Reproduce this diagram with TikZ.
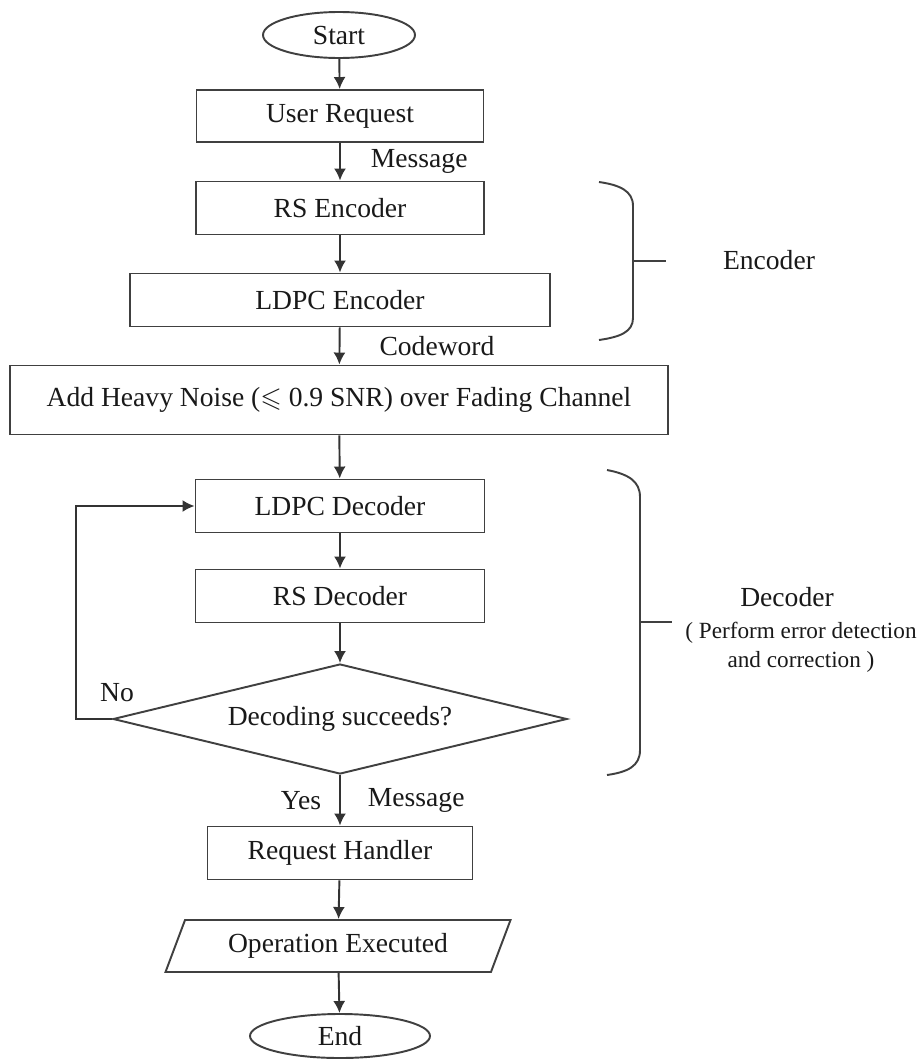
\documentclass[tikz,border=0pt]{standalone}
\usepackage{amssymb}
\usepackage{fontspec}
\setmainfont{Liberation Serif}
\usetikzlibrary{shapes.geometric,arrows.meta}

\begin{document}
\begin{tikzpicture}[x=0.2mm, y=-0.2mm, >={Latex[length=2.4mm,width=2.4mm]},
    every node/.style={font=\fontsize{15.7}{18}\selectfont, text=black!90},
    box/.style={rectangle, draw=black!75, line width=1.1pt, minimum height=10.6mm},
    term/.style={ellipse, draw=black!75, line width=1.1pt},
    decision/.style={diamond, draw=black!75, line width=1.1pt, aspect=4.13, inner sep=0pt, minimum width=90.8mm, minimum height=22mm},
    io/.style={trapezium, trapezium left angle=62, trapezium right angle=118, trapezium stretches body, draw=black!75, line width=1.1pt, minimum width=69mm, minimum height=10.4mm},
    lbl/.style={inner sep=0pt},
    note/.style={inner sep=0pt, align=center, font=\fontsize{13.2}{16.5}\selectfont},
    arr/.style={->, draw=black!80, line width=1.1pt},
    brace/.style={draw=black!75, line width=1.1pt}]
    \useasboundingbox (0,0) rectangle (921,1059);
    \node[term, minimum width=30.4mm, minimum height=9.2mm] (start) at (339,35) {Start};
    \node[box, minimum width=57.4mm, minimum height=10.4mm] (userreq) at (340,116) {User Request};
    \node[box, minimum width=57.6mm] (rsenc) at (340,208) {RS Encoder};
    \node[box, minimum width=84mm] (ldpcenc) at (340,300) {LDPC Encoder};
    \node[box, minimum width=131.6mm, minimum height=13.8mm] (noise) at (339,400) {Add Heavy Noise ($\leqslant$ 0.9 SNR) over Fading Channel};
    \node[box, minimum width=57.8mm] (ldpcdec) at (340,506) {LDPC Decoder};
    \node[box, minimum width=57.8mm] (rsdec) at (340,596) {RS Decoder};
    \node[decision] (decide) at (340,719) {Decoding succeeds?};
    \node[box, minimum width=53mm] (handler) at (340,853) {Request Handler};
    \node[io] (opexec) at (338,946) {Operation Executed};
    \node[term, minimum width=36mm, minimum height=8.4mm] (finish) at (340,1036) {End};
    \coordinate (loopturn) at (76,719);

    \draw[arr] (start) -- (userreq);
    \draw[arr] (userreq) -- node[lbl, right=6mm] (msgin) {Message} (rsenc);
    \draw[arr] (rsenc) -- (ldpcenc);
    \draw[arr] (ldpcenc) -- node[lbl, right=7.8mm] (cword) {Codeword} (noise);
    \draw[arr] (noise) -- (ldpcdec);
    \draw[arr] (ldpcdec) -- (rsdec);
    \draw[arr] (rsdec) -- (decide);
    \draw[arr] (decide) -- node[lbl, left=3.6mm] (yes) {Yes} node[lbl, right=5.4mm] (msgout) {Message} (handler);
    \draw[arr] (handler) -- (opexec);
    \draw[arr] (opexec) -- (finish);
    \draw[arr] (decide.west) -- (loopturn) |- (ldpcdec.west);
    \node[lbl] (no) at (117,693) {No};

    \draw[brace] (599,182) .. controls (620,185) and (633,191) .. (633,206) -- (633,318) .. controls (633,332) and (620,337) .. (599,340);
    \draw[brace] (633,261) -- (666,261);
    \node[lbl] (enclabel) at (769,260) {Encoder};
    \draw[brace] (607,470) .. controls (628,474) and (640,481) .. (640,497) -- (640,750) .. controls (640,766) and (628,772) .. (607,775);
    \draw[brace] (640,622) -- (672,622);
    \node[lbl] (declabel) at (787,597) {Decoder};
    \node[note] (decnote) at (801,647) {( Perform error detection\\and correction )};
\end{tikzpicture}
\end{document}
